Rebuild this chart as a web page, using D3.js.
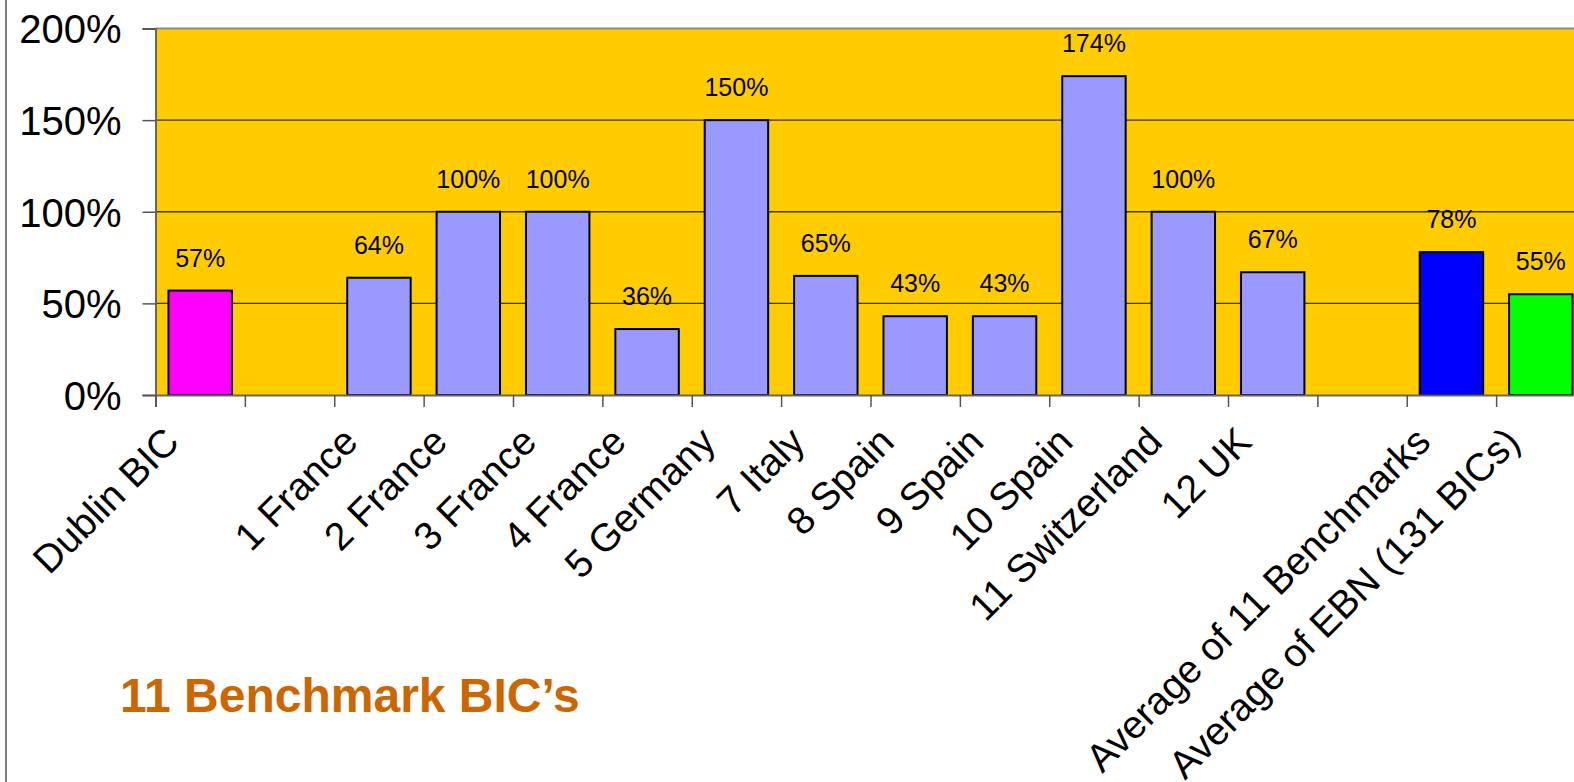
<!DOCTYPE html>
<html>
<head>
<meta charset="utf-8">
<script src="https://cdn.jsdelivr.net/npm/d3@7/dist/d3.min.js"></script>
<style>
  html, body { margin: 0; padding: 0; background: #ffffff; overflow: hidden; }
  svg { display: block; }
  text { font-family: "Liberation Sans", Arial, Helvetica, sans-serif; }
</style>
</head>
<body>
<script>
// ---------- DATA ----------
const categories = ["Dublin BIC", "", "1 France", "2 France", "3 France", "4 France", "5 Germany",
  "7 Italy", "8 Spain", "9 Spain", "10 Spain", "11 Switzerland", "12 UK", "",
  "Average of 11 Benchmarks", "Average of EBN (131 BICs)"];
const values = [57, null, 64, 100, 100, 36, 150, 65, 43, 43, 174, 100, 67, null, 78, 55];
const barColors = ["#FF00FF", null, "#9999FF", "#9999FF", "#9999FF", "#9999FF", "#9999FF",
  "#9999FF", "#9999FF", "#9999FF", "#9999FF", "#9999FF", "#9999FF", null, "#0000FF", "#00FF00"];
const yTicks = [0, 50, 100, 150, 200];
const title = "11 Benchmark BIC\u2019s";

// ---------- LAYOUT ----------
const W = 1574, H = 782;
const plot = { left: 155.5, top: 28.5, right: 1585.5, bottom: 395 };

const svg = d3.select("body").append("svg").attr("width", W).attr("height", H);
svg.append("rect").attr("width", W).attr("height", H).attr("fill", "#ffffff");

// left border line of the slide
svg.append("line").attr("x1", 6).attr("x2", 6).attr("y1", 0).attr("y2", H)
  .attr("stroke", "#555").attr("stroke-width", 1.5);

const idx = d3.range(categories.length);
const x = d3.scaleBand().domain(idx).range([plot.left, plot.right])
  .paddingInner(0.29).paddingOuter(0.145);
const xSlot = d3.scaleLinear().domain([0, categories.length]).range([plot.left, plot.right]);
const y = d3.scaleLinear().domain([0, 200]).range([plot.bottom, plot.top]);

// plot background
svg.append("rect")
  .attr("x", plot.left).attr("y", plot.top)
  .attr("width", plot.right - plot.left).attr("height", plot.bottom - plot.top)
  .attr("fill", "#FFCC00");

// gridlines
svg.append("g").selectAll("line").data(yTicks.filter(t => t > 0 && t < 200)).join("line")
  .attr("x1", plot.left).attr("x2", plot.right)
  .attr("y1", d => y(d)).attr("y2", d => y(d))
  .attr("stroke", "#3a3300").attr("stroke-width", 1.3);

// top border
svg.append("line").attr("x1", plot.left).attr("x2", plot.right)
  .attr("y1", plot.top).attr("y2", plot.top)
  .attr("stroke", "#8a8a8a").attr("stroke-width", 2);

// bars
svg.append("g").selectAll("rect").data(idx.filter(i => values[i] != null)).join("rect")
  .attr("x", i => x(i)).attr("width", x.bandwidth())
  .attr("y", i => y(values[i])).attr("height", i => y(0) - y(values[i]))
  .attr("fill", i => barColors[i])
  .attr("stroke", "#000").attr("stroke-width", 2);

// data labels
svg.append("g").selectAll("text").data(idx.filter(i => values[i] != null)).join("text")
  .attr("x", i => x(i) + x.bandwidth() / 2)
  .attr("y", i => y(values[i]) - 24)
  .attr("text-anchor", "middle")
  .attr("font-size", 25)
  .attr("fill", "#000")
  .text(i => values[i] + "%");

// y axis
const yAxis = d3.axisLeft(y).tickValues(yTicks).tickSize(13).tickPadding(21)
  .tickFormat(d => d + "%");
const gy = svg.append("g").attr("transform", `translate(${plot.left},0)`).call(yAxis);
gy.select(".domain").attr("stroke", "#666").attr("stroke-width", 2);
gy.selectAll(".tick line").attr("stroke", "#555").attr("stroke-width", 1.5);
gy.selectAll(".tick text").attr("font-size", 40).attr("fill", "#000")
  .attr("font-family", "'Liberation Sans', Arial, sans-serif").attr("dy", "0.36em");

// x axis (slot boundaries)
const xAxis = d3.axisBottom(xSlot).tickValues(d3.range(categories.length + 1))
  .tickSize(12).tickFormat("");
const gx = svg.append("g").attr("transform", `translate(0,${plot.bottom})`).call(xAxis);
gx.select(".domain").attr("stroke", "#666").attr("stroke-width", 2);
gx.selectAll(".tick line").attr("stroke", "#555").attr("stroke-width", 1.5);

// x labels rotated
svg.append("g").selectAll("text").data(idx.filter(i => categories[i] !== "")).join("text")
  .attr("transform", i => `translate(${x(i) + x.bandwidth() / 2 - 19},${plot.bottom + 49}) rotate(-45)`)
  .attr("text-anchor", "end")
  .attr("font-size", 39)
  .attr("fill", "#000")
  .text(i => categories[i]);

// title
svg.append("text").attr("x", 120).attr("y", 712)
  .attr("font-size", 48).attr("font-weight", "bold").attr("fill", "#CC6600")
  .text(title);
</script>
</body>
</html>
